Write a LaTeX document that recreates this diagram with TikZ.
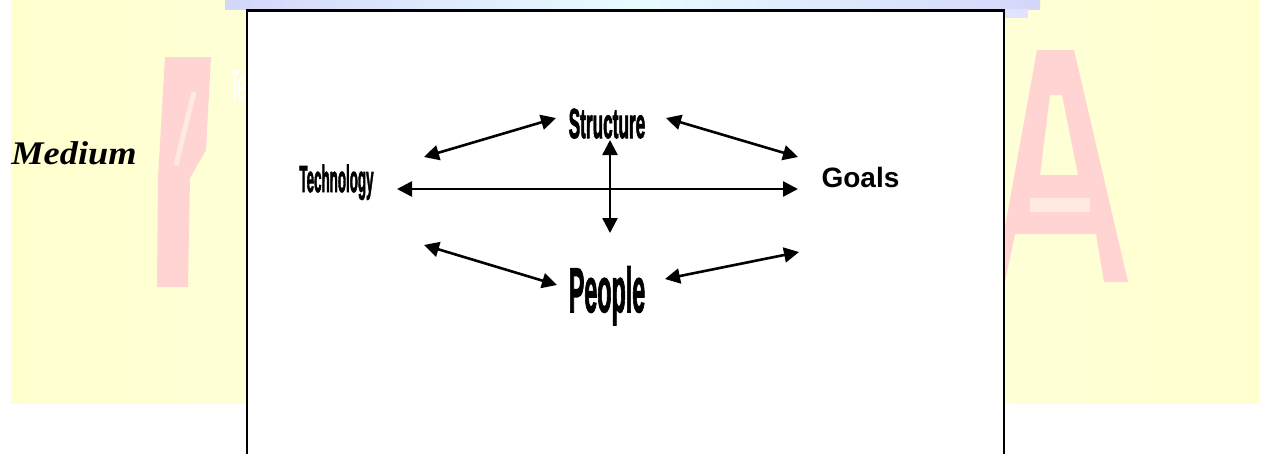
\documentclass[tikz,border=0pt]{standalone}
\usepackage{fontspec}
\newfontfamily\arialf{Liberation Sans}
\newfontfamily\arialheavy{Liberation Sans}[FakeBold=2.5]
\newfontfamily\timesf{Liberation Serif}
\usetikzlibrary{arrows.meta}
\definecolor{bgyellow}{RGB}{255,255,206}
\definecolor{bgpale}{RGB}{255,255,230}
\definecolor{wmpink}{RGB}{255,212,210}
\definecolor{wmlight}{RGB}{255,234,224}
\definecolor{bandblue}{RGB}{212,214,250}
\definecolor{bandcyan}{RGB}{232,252,255}
\begin{document}
\begin{tikzpicture}[x=1pt,y=-1pt,
  dbl/.style={{Triangle[length=15pt,width=15pt]}-{Triangle[length=15pt,width=15pt]}, line width=2.6pt, draw=black},
  lbl/.style={inner sep=0pt, anchor=base, text=black},
  condensed/.style={font=\arialheavy\bfseries\fontsize{#1}{#1}\selectfont},
  frame/.style={draw=black, line width=2.5pt, fill=white}
]
\path[use as bounding box] (0,0) rectangle (1270,453);
\clip (0,0) rectangle (1270,453);
\fill[white] (0,0) rectangle (1270,453);
% yellow background
\shade[left color=bgyellow, right color=bgyellow, middle color=bgpale] (11,0) rectangle (1259,403);
% blue band at top
\shade[left color=bandblue, right color=bandblue, middle color=bandcyan] (225,0) rectangle (1040,9);
\fill[bandblue!70!white] (1004,9) rectangle (1028,18);
% watermark letters
\fill[wmpink] (165,57) -- (211,57) -- (206,150) -- (190,178) -- (188,287) -- (157,287) -- (158,178) -- cycle;
\draw[wmlight, line width=5pt] (194,92) -- (176,165);
\fill[wmpink, even odd rule] (1037,50) -- (1074,50) -- (1128,282) -- (1104,282) -- (1096,234) -- (1015,234) -- (1005,282) -- (995,282) -- cycle
  (1050,95) -- (1062,95) -- (1078,175) -- (1040,175) -- cycle;
\fill[wmlight] (1030,198) rectangle (1090,212);
% ghost text behind the frame
\node[inner sep=0pt, anchor=base west, text=white, font=\arialf\fontsize{42}{42}\selectfont] (ghost) at (230,100) {\scalebox{0.364}[1]{Technology}};
% left label
\node[lbl, font=\timesf\bfseries\itshape\fontsize{33}{38}\selectfont] (medium) at (74,164) {\scalebox{1.1}[1]{Medium}};
% white frame
\draw[frame] (247,10.5) rectangle (1004,480);
% labels
\node[lbl, condensed=42] (structure) at (607,138) {\scalebox{0.41}[1]{Structure}};
\node[lbl, condensed=63] (people) at (607,312) {\scalebox{0.37}[1]{People}};
\node[lbl, condensed=37.7] (technology) at (336.5,192) {\scalebox{0.355}[1]{Technology}};
\node[lbl, font=\arialf\bfseries\fontsize{28}{28}\selectfont] (goals) at (860.5,187) {Goals};
% arrow end points
\coordinate (tsA) at (424,157); \coordinate (tsB) at (556,118);
\coordinate (sgA) at (666,118); \coordinate (sgB) at (798,157);
\coordinate (tgA) at (397,189); \coordinate (tgB) at (798,189);
\coordinate (spA) at (610,140); \coordinate (spB) at (610,233);
\coordinate (tpA) at (424,245); \coordinate (tpB) at (557,285);
\coordinate (pgA) at (665,279); \coordinate (pgB) at (799,252);
\draw[dbl] (tsA) -- (tsB);
\draw[dbl] (sgA) -- (sgB);
\draw[dbl] (tgA) -- (tgB);
\draw[dbl] (spA) -- (spB);
\draw[dbl] (tpA) -- (tpB);
\draw[dbl] (pgA) -- (pgB);
\end{tikzpicture}
\end{document}
